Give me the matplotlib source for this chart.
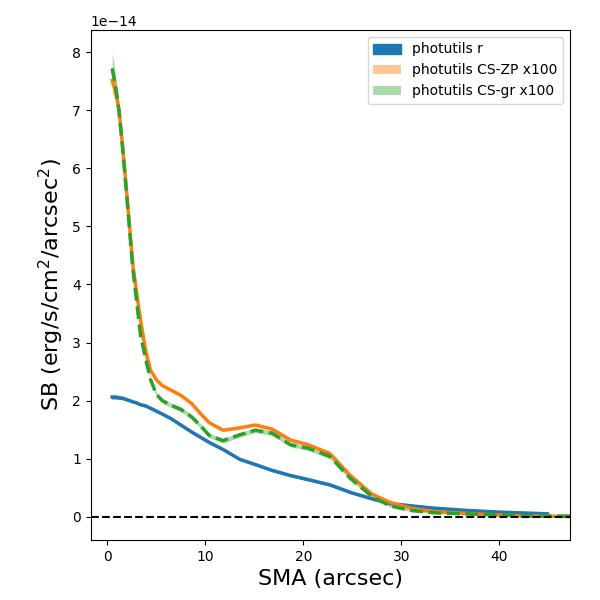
import numpy as np
import matplotlib
matplotlib.use("Agg")
import matplotlib.pyplot as plt

# SMA grids (arcsec)
sma_r = [0.5, 0.9, 1.2, 1.6, 2.1, 2.6, 3.0, 3.4, 3.9, 4.4, 5.0, 5.6, 6.5, 7.5, 8.6, 9.6,
         10.4, 11.8, 13.5, 15.1, 16.8, 18.7, 20.5, 22.7, 24.8, 27.0, 28.8, 30.9, 33.2,
         36.6, 40.0, 43.4, 44.9]
sma_cs = [0.5, 0.9, 1.2, 1.6, 2.1, 2.6, 3.0, 3.4, 3.9, 4.4, 5.0, 5.6, 6.5, 7.5, 8.6, 9.6,
          10.4, 11.8, 13.5, 15.1, 16.8, 18.7, 20.5, 22.7, 24.8, 27.0, 28.8, 30.9, 33.2,
          36.6, 40.0, 43.4, 47.2]

# surface brightness in units of 1e-14
sb_r = [2.06, 2.06, 2.05, 2.04, 2.01, 1.98, 1.96, 1.93, 1.91, 1.87, 1.82, 1.77, 1.69, 1.58,
        1.46, 1.36, 1.28, 1.16, 0.99, 0.90, 0.80, 0.71, 0.64, 0.55, 0.42, 0.31, 0.23, 0.19,
        0.15, 0.11, 0.08, 0.06, 0.05]
err_r = [0.02, 0.02, 0.015, 0.015, 0.01, 0.01, 0.01, 0.01, 0.01, 0.01, 0.01, 0.01, 0.01, 0.01,
         0.01, 0.01, 0.01, 0.01, 0.01, 0.01, 0.01, 0.01, 0.01, 0.01, 0.01, 0.01, 0.01, 0.01,
         0.01, 0.01, 0.012, 0.012, 0.012]

sb_zp = [7.51, 7.30, 7.00, 6.32, 5.35, 4.35, 3.85, 3.38, 2.88, 2.53, 2.36, 2.26, 2.18, 2.09,
         1.95, 1.76, 1.62, 1.49, 1.53, 1.58, 1.51, 1.32, 1.24, 1.09, 0.71, 0.39, 0.25, 0.15,
         0.09, 0.057, 0.03, 0.012, 0.005]
err_zp = [0.22, 0.18, 0.10, 0.06, 0.04, 0.03, 0.03, 0.03, 0.03, 0.02, 0.02, 0.02, 0.02, 0.02,
          0.02, 0.02, 0.02, 0.02, 0.02, 0.02, 0.02, 0.02, 0.02, 0.02, 0.015, 0.01, 0.01, 0.01,
          0.01, 0.01, 0.01, 0.01, 0.01]

sb_gr = [7.72, 7.35, 6.98, 6.28, 5.30, 4.28, 3.70, 3.12, 2.73, 2.37, 2.11, 2.00, 1.92, 1.85,
         1.72, 1.55, 1.40, 1.31, 1.41, 1.49, 1.44, 1.24, 1.18, 1.04, 0.66, 0.35, 0.19, 0.11,
         0.07, 0.05, 0.03, 0.015, 0.01]
err_gr = [0.27, 0.20, 0.12, 0.08, 0.06, 0.05, 0.05, 0.05, 0.05, 0.04, 0.04, 0.04, 0.04, 0.04,
          0.04, 0.04, 0.04, 0.04, 0.04, 0.04, 0.04, 0.04, 0.04, 0.04, 0.03, 0.03, 0.02, 0.02,
          0.015, 0.015, 0.01, 0.01, 0.01]

scale = 1e-14

def arr(v):
    return np.asarray(v, dtype=float) * scale

fig, ax = plt.subplots(figsize=(6, 6), dpi=100)
fig.subplots_adjust(left=0.151, right=0.95, bottom=0.1, top=0.95)

x_r = np.asarray(sma_r)
x_cs = np.asarray(sma_cs)

ax.fill_between(x_r, arr(sb_r) - arr(err_r), arr(sb_r) + arr(err_r),
                color='#1f77b4', alpha=1.0, label='photutils r')
ax.plot(x_r, arr(sb_r), color='#1f77b4', lw=2.5)

ax.fill_between(x_cs, arr(sb_zp) - arr(err_zp), arr(sb_zp) + arr(err_zp),
                color='#ff7f0e', alpha=0.45, lw=0, label='photutils CS-ZP x100')
ax.plot(x_cs, arr(sb_zp), color='#ff7f0e', lw=2.5)

ax.fill_between(x_cs, arr(sb_gr) - arr(err_gr), arr(sb_gr) + arr(err_gr),
                color='#2ca02c', alpha=0.4, lw=0, label='photutils CS-gr x100')
ax.plot(x_cs, arr(sb_gr), color='#2ca02c', lw=2.5, ls='--')

ax.axhline(0, color='black', ls='--', lw=1.5)

ax.set_xlim(-1.7, 47.2)
ax.set_ylim(-0.40e-14, 8.38e-14)
ax.set_xticks([0, 10, 20, 30, 40])
ax.set_xlabel('SMA (arcsec)', fontsize=16)
ax.set_ylabel('SB (erg/s/cm$^2$/arcsec$^2$)', fontsize=16)
ax.legend(loc='upper right')

fig.savefig('out.png', dpi=100)
